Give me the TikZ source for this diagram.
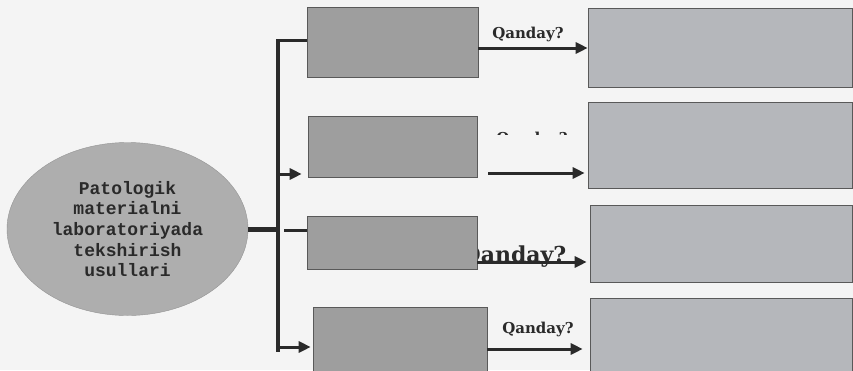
\documentclass[tikz,border=0pt]{standalone}
\usepackage{fontspec}
\usetikzlibrary{arrows.meta,shapes.geometric}
\newfontfamily\monofam{Liberation Mono}
\newfontfamily\qfam{DejaVu Serif}
\definecolor{bg}{HTML}{F4F4F4}
\definecolor{lfill}{HTML}{9E9E9E}
\definecolor{rfill}{HTML}{B5B7BB}
\definecolor{efill}{HTML}{AEAEAE}
\definecolor{ink}{HTML}{2A2A2A}
\tikzset{
  lbox/.style={draw=gray!70!black, line width=0.6pt, fill=lfill, rectangle, inner sep=0pt},
  rbox/.style={draw=gray!70!black, line width=0.6pt, fill=rfill, rectangle, inner sep=0pt},
  conn/.style={draw=ink, line width=3pt},
  arr/.style={draw=ink, line width=3pt, -{Triangle[length=12pt,width=11pt]}},
  qlab/.style={text=ink, font=\qfam\bfseries\fontsize{15}{17}\selectfont, inner sep=0pt, anchor=base},
}
\begin{document}
\begin{tikzpicture}[x=1pt,y=-1pt]
\fill[bg] (0,0) rectangle (853,370);
\useasboundingbox (0,0) rectangle (853,370);
% big label under box 3
\node[qlab, font=\qfam\bfseries\fontsize{22}{24}\selectfont] (q3) at (514,262) {Qanday?};
% left boxes
\node[lbox, minimum width=171pt, minimum height=70pt] (b1) at (392.5,42) {};
\node[lbox, minimum width=169pt, minimum height=61pt] (b2) at (392.5,146.5) {};
\node[lbox, minimum width=170pt, minimum height=53pt] (b3) at (392,242.5) {};
\node[lbox, minimum width=174pt, minimum height=67pt] (b4) at (400,340.5) {};
% right boxes
\node[rbox, minimum width=264pt, minimum height=79pt] (r1) at (720,47.5) {};
\node[rbox, minimum width=264pt, minimum height=86pt] (r2) at (720,145) {};
\node[rbox, minimum width=262pt, minimum height=77pt] (r3) at (721,243.5) {};
\node[rbox, minimum width=262pt, minimum height=76pt] (r4) at (721,336) {};
% ellipse
\node[ellipse, fill=efill, draw=efill!85!black, line width=0.4pt, minimum width=241pt, minimum height=173pt, inner sep=0pt,
      align=center, text=ink, font=\monofam\bfseries\fontsize{18}{20.7}\selectfont] (ell) at (127.5,229)
  {Patologik\\materialni\\laboratoriyada\\tekshirish\\usullari};
% trunk
\coordinate (t1) at (278,40);
\coordinate (tb) at (278,352);
\coordinate (t2) at (278,174);
\coordinate (t3) at (284,230);
\coordinate (t4) at (278,347);
\draw[conn, line width=3.5pt] (t1) -- (tb);
\draw[conn, line width=5pt] (ell.east) -- (ell.east -| t1);
\draw[conn] ([xshift=-1.75pt]t1) -- (t1 -| b1.west);
\draw[arr, shorten >=6pt] (t2) -- (t2 -| b2.west);
\draw[conn] (t3) -- (t3 -| b3.west);
\draw[arr, shorten >=2pt] (t4) -- (t4 -| b4.west);
% right arrows
\coordinate (a1) at ([yshift=-6pt]b1.east);
\draw[arr] (a1) -- (a1 -| r1.west);
\coordinate (a2) at ([xshift=11pt,yshift=-26.5pt]b2.east);
\draw[arr, shorten >=3pt] (a2) -- (a2 -| r2.west);
\coordinate (a3) at ([yshift=-19.5pt]b3.east);
\draw[arr, shorten >=3pt] (a3) -- (a3 -| r3.west);
\coordinate (a4) at ([yshift=-8.5pt]b4.east);
\draw[arr, shorten >=7pt] (a4) -- (a4 -| r4.west);
% labels
\node[qlab] (q1) at (528,38) {Qanday?};
\begin{scope}
  \clip (480,120) rectangle (590,134);
  \node[qlab] (q2) at (532,143) {Qanday?};
\end{scope}
\node[qlab] (q4) at (538,333) {Qanday?};
\end{tikzpicture}
\end{document}
